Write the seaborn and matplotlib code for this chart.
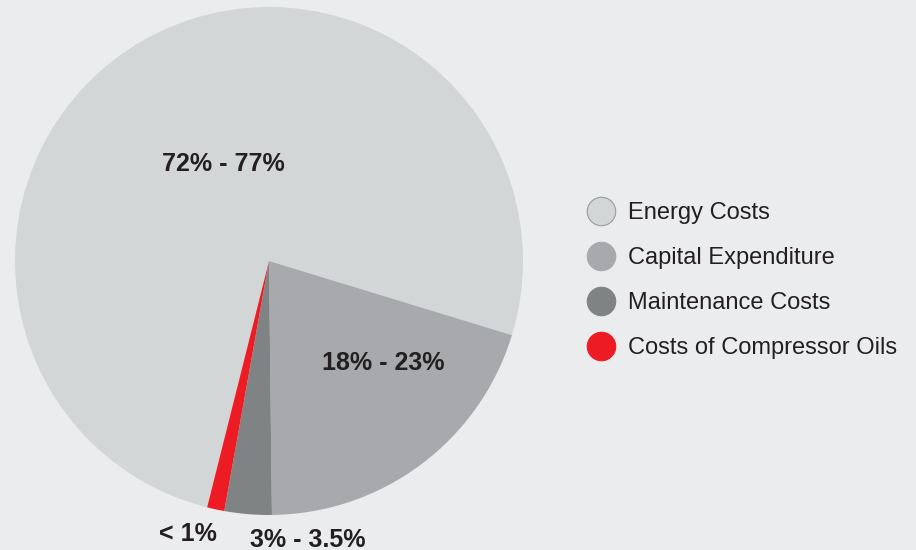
import matplotlib
matplotlib.use("Agg")
import matplotlib.pyplot as plt
from matplotlib.lines import Line2D
import seaborn as sns

# ----------------------- Data -----------------------
categories = ["Energy Costs", "Capital Expenditure", "Maintenance Costs", "Costs of Compressor Oils"]
shares = [75.8, 20.1, 3.0, 1.1]
range_labels = ["72% - 77%", "18% - 23%", "3% - 3.5%", "< 1%"]
colors = ["#d3d6d7", "#a7a9ac", "#808384", "#ed1c24"]

BG = "#ebecee"
TEXT = "#231f20"

sns.set_style("white")
plt.rcParams["font.family"] = ["Liberation Sans", "DejaVu Sans"]

fig = plt.figure(figsize=(9.16, 5.5), dpi=100, facecolor=BG)

# pie centre at (269, 261) px, radius 254 px
cx, cy, r = 269, 261, 254
W, H = 916, 550
ax = fig.add_axes([(cx - r) / W, (H - cy - r) / H, 2 * r / W, 2 * r / H])
ax.set_facecolor(BG)

wedges, _ = ax.pie(shares, colors=colors, startangle=255.9, counterclock=False,
                   radius=1, wedgeprops=dict(linewidth=0))
ax.set_xlim(-1, 1)
ax.set_ylim(-1, 1)
ax.set_aspect("equal")
ax.axis("off")

# value range labels (baseline positions in data units)
label_pos = {
    "72% - 77%": (-0.181, 0.354),
    "18% - 23%": (0.449, -0.429),
    "3% - 3.5%": (0.154, -1.125),
    "< 1%": (-0.319, -1.102),
}
for txt in range_labels:
    x, y = label_pos[txt]
    ax.text(x, y, txt, ha="center", va="baseline", fontsize=18,
            fontweight="bold", color=TEXT, clip_on=False)

# legend with round markers
handles = []
for c in colors:
    edge = "#9a9c9e" if c == colors[0] else c
    handles.append(Line2D([], [], linestyle="none", marker="o", markersize=20.5,
                          markerfacecolor=c, markeredgecolor=edge, markeredgewidth=0.8))
leg = fig.legend(handles, categories, loc="upper left",
                 bbox_to_anchor=(575 / W, 1 - 190 / H), frameon=False,
                 fontsize=17, labelspacing=0.98, handletextpad=0.55,
                 handlelength=1.2, borderpad=0, labelcolor=TEXT)

fig.savefig("out.png", dpi=100, facecolor=BG)
